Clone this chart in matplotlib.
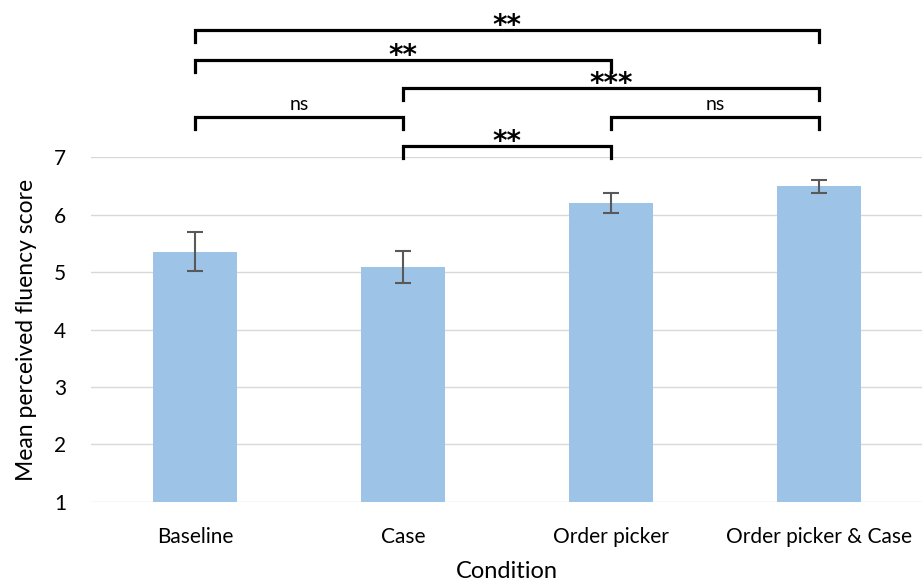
import matplotlib.pyplot as plt
import numpy as np

plt.rcParams['font.family'] = ['Lato', 'DejaVu Sans']

conditions = ['Baseline', 'Case', 'Order picker', 'Order picker & Case']
means = [5.35, 5.09, 6.20, 6.49]
errors = [0.34, 0.28, 0.18, 0.11]

# significance brackets: (left index, right index, height, label)
brackets = [
    (0, 3, 9.21, '**'),
    (0, 2, 8.69, '**'),
    (1, 3, 8.20, '***'),
    (0, 1, 7.70, 'ns'),
    (2, 3, 7.70, 'ns'),
    (1, 2, 7.19, '**'),
]

fig = plt.figure(figsize=(9.22, 5.85), dpi=100)
ax = fig.add_axes([0.0987, 0.1419, 0.9024, 0.5897])

x = np.arange(len(conditions))
ax.bar(x, means, width=0.4, color='#9DC3E6', zorder=2)
ax.errorbar(x, means, yerr=errors, fmt='none', ecolor='#595959',
            elinewidth=1.5, capsize=6, capthick=1.5, zorder=3)

ax.set_xlim(-0.5, 3.5)
ax.set_ylim(1, 7)
ax.set_yticks(range(1, 8))
ax.grid(axis='y', color='#D9D9D9', linewidth=1, zorder=0)
for s in ax.spines.values():
    s.set_visible(False)
ax.tick_params(length=0, labelsize=15, colors='black')
ax.tick_params(axis='y', pad=18)
ax.tick_params(axis='x', pad=18)
ax.set_xticks(x)
ax.set_xticklabels(conditions)
ax.set_xlabel('Condition', fontsize=17, labelpad=10)
ax.set_ylabel('Mean perceived fluency score', fontsize=16.5, labelpad=12)

tick = 0.21
for i, j, h, lab in brackets:
    ax.plot([i, i, j, j], [h - tick, h, h, h - tick], color='black',
            linewidth=2.3, clip_on=False, solid_joinstyle='miter')
    if lab == 'ns':
        ax.text((i + j) / 2, h + 0.07, lab, ha='center', va='bottom', fontsize=14)
    else:
        ax.text((i + j) / 2, h - 0.07, lab, ha='center', va='baseline',
                fontsize=20, fontweight='bold', family='DejaVu Sans')

fig.savefig('out.png', dpi=100)
